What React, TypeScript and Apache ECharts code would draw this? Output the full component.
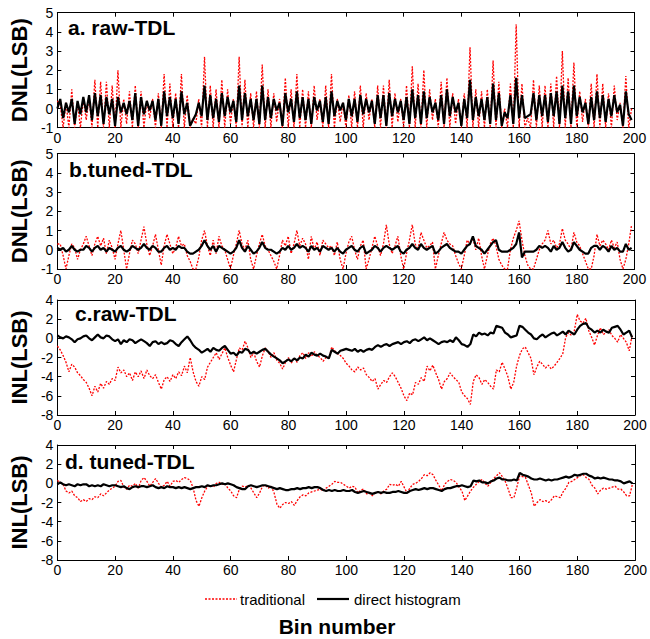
import React, { useEffect, useRef } from "react";
import * as echarts from "echarts";

// ---------------- data (bin index 0..199) ----------------
const panelTitles = ["a. raw-TDL", "b.tuned-TDL", "c.raw-TDL", "d. tuned-TDL"];
const yNames = ["DNL(LSB)", "DNL(LSB)", "INL(LSB)", "INL(LSB)"];
const yMins = [-1, -1, -8, -8];
const yMaxs = [5, 5, 4, 4];
const yIntervals = [1, 1, 2, 2];
const xMin = 0;
const xMax = 200;
const xInterval = 20;
const legendNames = ["traditional", "direct histogram"];
const xTitle = "Bin number";

const tradA = [
  0.4, 0.2, -1, 0.3, -1, 1.0, -1, 0.3, -1, 0.5,
  -0.6, 0.6, -1, 1.5, -1, 1.4, -1, 1.4, -1, 1.2,
  -1, 2.0, -1, 0.5, -0.8, 0.9, -1, 1.2, -1, 0.9,
  -1, 0.4, -0.5, 0.5, -1, 0.8, -1, 1.8, -1, 1.3,
  -1, 0.8, -1, 1.8, -1, 0.7, -1, -0.5, -0.8, 0.5,
  -1, 2.7, -1, 1.2, -1, 1.0, -1, 1.5, -1, 1.0,
  -0.8, 0.5, -1, 2.7, -1, 1.5, -1, 0.8, -1, 0.9,
  -1, 2.3, -1, 1.0, -1, 0.8, -0.7, 0.5, -1, 1.6,
  -1, 1.0, -1, 1.8, -1, 1.0, -1, 0.9, -1, 1.2,
  -0.6, 0.5, -1, 1.2, -1, 1.8, -1, 0.5, -0.7, 0.3,
  -1, 0.7, -1, 0.9, -1, 1.2, -1, 0.8, -0.6, 0.5,
  -1, 1.2, -1, 1.2, -1, 1.5, -1, 0.8, -0.7, 0.5,
  -1, 1.2, -1, 2.2, -1, 1.3, -1, 2.0, -1, 1.0,
  -0.6, 0.5, -1, 1.4, -1, 1.6, -1, 0.8, -0.8, 0.5,
  -1, 0.8, -1, 3.2, -1, 1.0, -1, 0.9, -1, 1.0,
  -1, 2.5, -1, 1.4, -1, 0.0, -1, 1.3, -1, 4.4,
  -1, 1.3, -1, -0.5, -1, 1.5, -1, 1.2, -1, 1.2,
  -1, 1.3, -1, 1.7, -1, 3.0, -1, 1.6, -1, 2.4,
  -1, 0.9, -0.7, 0.5, -1, 1.3, -1, 1.8, -1, 1.3,
  -1, 0.8, -1, 1.2, -0.6, 0.3, -1, 1.7, -1, 0.0,
];

const histA = [
  0.0, 0.5, -0.5, 0.3, -0.2, 0.5, -0.8, 0.4, -0.3, 0.6,
  -0.2, 0.7, -0.6, 0.8, -0.4, 0.7, -0.8, 0.6, -0.3, 0.5,
  -0.9, 0.6, -0.2, 0.3, -0.3, 0.4, -0.6, 0.8, -0.9, 0.6,
  -0.3, 0.4, -0.1, 0.4, -0.6, 0.5, -0.9, 0.9, -0.4, 0.6,
  -0.5, 0.5, -0.8, 0.9, -0.3, 0.3, -0.9, -0.6, -0.3, 0.3,
  -0.4, 1.2, -0.6, 0.7, -0.5, 0.5, -0.7, 0.8, -0.4, 0.6,
  -0.2, 0.4, -0.7, 1.2, -0.6, 0.8, -0.4, 0.5, -0.6, 0.5,
  -0.8, 1.2, -0.6, 0.6, -0.5, 0.5, -0.1, 0.3, -0.9, 0.8,
  -0.2, 0.5, -0.7, 0.9, -0.5, 0.6, -0.6, 0.5, -0.8, 0.6,
  -0.1, 0.4, -0.7, 0.6, -0.8, 0.9, -0.4, 0.4, -0.1, 0.3,
  -0.6, 0.5, -0.4, 0.5, -0.7, 0.7, -0.3, 0.5, -0.2, 0.4,
  -0.8, 0.7, -0.5, 0.7, -0.9, 0.8, -0.4, 0.5, -0.2, 0.4,
  -0.6, 0.6, -0.8, 1.0, -0.5, 0.7, -0.8, 0.9, -0.5, 0.6,
  -0.2, 0.3, -0.6, 0.7, -0.8, 1.0, -0.4, 0.6, -0.2, 0.3,
  -0.9, 0.5, -0.5, 1.5, -0.6, 0.6, -0.4, 0.5, -0.6, 0.6,
  -0.8, 1.3, -0.6, 0.8, -0.9, -0.2, -0.5, 0.7, -0.8, 1.6,
  -0.5, 0.7, -0.5, -0.4, -0.3, 0.8, -0.6, 0.7, -0.4, 0.7,
  -0.7, 0.8, -0.4, 0.9, -0.8, 1.2, -0.5, 0.9, -0.8, 1.2,
  -0.4, 0.6, -0.2, 0.3, -0.8, 0.6, -0.6, 0.9, -0.5, 0.7,
  -0.7, 0.5, -0.4, 0.7, -0.2, 0.2, -0.9, 0.9, -0.3, -0.6,
];

const tradB = [
  0.3, 0.3, -0.3, -1, -0.3, 0.3, 0.1, -0.5, 0.0, 0.3,
  0.7, 0.2, -0.3, 0.3, 0.7, 0.2, 0.6, -0.2, 0.5, 0.1,
  -0.5, 0.3, 1.0, 0.0, -1, -0.2, 0.5, 0.3, -0.2, 0.5,
  1.2, 0.3, -0.3, 0.2, 0.8, 0.0, -0.8, 0.2, 0.8, 0.3,
  -0.2, 0.1, 0.7, 0.2, 0.3, -0.3, -0.6, -1, -1, -0.4,
  0.5, 1.0, 0.2, -0.3, 0.5, -0.2, 0.7, 0.2, 0.0, -0.5,
  -1, -0.3, 0.3, 1.0, 0.3, 0.0, 0.5, -0.5, -1, -0.3,
  0.3, 0.8, 0.2, 0.0, -0.3, -0.6, -1, -0.3, 0.5, 0.2,
  0.7, -0.2, 0.3, 1.0, 0.2, 0.6, 0.3, -0.5, 0.7, 0.0,
  0.4, -0.3, 0.5, 0.3, 0.1, 0.2, -0.3, 0.4, -0.5, -1,
  -0.2, 0.4, 0.7, 0.0, -0.5, 0.2, 0.5, -1, -0.5, 0.1,
  0.7, 0.2, -0.3, 0.3, 1.3, 0.3, -0.2, 0.2, 0.7, -0.3,
  -1, -0.2, 0.5, 1.3, 0.3, 0.0, 0.9, 0.5, 0.1, 0.2,
  0.4, -1, -0.3, 0.3, 0.9, 0.5, 0.3, 0.2, -0.3, -0.7,
  -1, -0.3, 0.5, 0.3, 0.6, 0.0, 0.6, -0.3, -1, -0.3,
  0.3, 0.6, 0.2, -0.5, -0.8, -1, -1, 0.0, 0.6, 1.0,
  1.5, 0.5, -0.3, -0.8, -1, -1, -0.5, 0.0, 0.3, 0.5,
  1.0, 0.3, 0.5, 0.1, 0.3, 1.1, 0.5, 0.3, 0.0, 0.9,
  0.4, 0.2, -0.2, -0.6, -1, -1, -0.3, 0.8, 0.2, 0.5,
  0.3, 0.0, 0.5, 0.1, 0.4, -0.5, -1, -0.5, 0.3, 1.3,
];

const histB = [
  0.1, 0.0, 0.1, -0.1, 0.0, 0.2, 0.0, -0.1, 0.0, 0.0,
  0.2, 0.1, -0.1, 0.1, 0.2, 0.0, 0.1, -0.1, 0.1, 0.0,
  -0.1, 0.1, 0.2, 0.0, -0.1, 0.0, 0.2, 0.1, 0.0, 0.1,
  0.3, 0.1, 0.0, 0.2, 0.1, -0.1, -0.1, 0.1, 0.2, 0.0,
  0.1, 0.0, 0.2, 0.1, 0.1, -0.1, -0.2, -0.2, -0.1, 0.0,
  0.2, 0.5, 0.2, 0.0, 0.2, -0.1, 0.2, 0.1, 0.0, -0.1,
  -0.2, -0.1, 0.1, 0.5, 0.1, -0.1, 0.2, 0.0, -0.2, -0.1,
  0.1, 0.4, 0.1, 0.0, 0.0, -0.1, -0.2, -0.1, 0.1, 0.0,
  0.2, 0.0, 0.1, 0.3, 0.1, 0.2, 0.1, -0.1, 0.2, 0.0,
  0.1, -0.1, 0.2, 0.1, 0.0, 0.1, -0.1, 0.1, -0.1, -0.2,
  0.0, 0.1, 0.2, 0.0, -0.1, 0.1, 0.2, -0.2, -0.1, 0.0,
  0.2, 0.1, -0.1, 0.1, 0.2, 0.1, 0.0, 0.1, 0.2, -0.1,
  -0.2, 0.0, 0.1, 0.3, 0.1, 0.0, 0.3, 0.1, 0.0, 0.1,
  0.2, -0.2, -0.1, 0.1, 0.2, 0.3, 0.1, 0.0, -0.1, -0.1,
  -0.2, 0.0, 0.2, 0.3, 0.7, 0.2, 0.1, 0.0, -0.2, 0.0,
  0.2, 0.4, 0.5, 0.0, -0.1, -0.1, -0.1, 0.0, 0.1, 0.3,
  0.9, -0.4, -0.1, -0.1, -0.1, -0.1, 0.0, 0.2, 0.1, 0.2,
  0.1, -0.1, 0.2, 0.0, 0.1, 0.4, 0.1, -0.1, 0.0, 0.4,
  0.2, 0.0, -0.1, -0.2, -0.2, 0.1, 0.2, 0.2, 0.0, 0.2,
  0.1, -0.1, 0.2, 0.0, 0.1, -0.1, -0.1, 0.3, 0.0, 0.1,
];

const tradC = [
  -0.8, -1.2, -1.8, -2.5, -3.5, -2.7, -3.0, -3.6, -3.9, -4.3,
  -4.6, -5.2, -6.0, -5.0, -5.6, -4.7, -5.2, -4.5, -4.8, -4.2,
  -4.4, -3.0, -3.6, -3.3, -4.0, -3.6, -4.4, -3.5, -4.0, -3.4,
  -4.2, -3.3, -3.9, -4.2, -3.8, -4.6, -5.3, -4.3, -4.0, -4.5,
  -3.8, -4.2, -3.5, -3.9, -2.9, -3.6, -2.0, -3.5, -4.5, -5.0,
  -4.0, -4.3, -3.0, -2.5, -2.0, -1.5, -2.2, -1.6, -1.0, -2.0,
  -2.8, -3.5, -2.2, -1.0, -1.2, -0.3, -1.0, -2.0, -1.5, -2.4,
  -3.0, -1.8, -1.0, -1.4, -2.0, -1.5, -2.3, -2.6, -3.2, -2.5,
  -2.0, -2.6, -2.0, -2.5, -1.8, -1.5, -2.1, -1.5, -1.9, -1.4,
  -1.8, -2.0, -2.4, -2.0, -2.1, -0.9, -1.3, -1.6, -1.8, -2.1,
  -2.6, -2.9, -3.3, -3.5, -3.0, -3.3, -3.1, -3.8, -4.1, -4.5,
  -4.2, -5.3, -4.8, -4.4, -4.6, -4.0, -3.6, -4.0, -4.6, -5.2,
  -6.0, -6.5, -5.7, -5.9, -4.6, -4.8, -4.1, -4.5, -2.9, -3.4,
  -2.8, -3.6, -4.3, -5.3, -4.5, -4.2, -3.6, -4.0, -4.3, -4.6,
  -5.6, -6.0, -6.3, -6.9, -4.5, -3.8, -4.1, -4.8, -4.3, -4.6,
  -5.0, -5.3, -3.3, -3.5, -2.5, -3.2, -4.0, -5.3, -4.6, -2.9,
  -1.8, -1.1, -0.9, -1.5, -2.1, -3.8, -3.0, -2.4, -2.7, -3.1,
  -2.8, -3.2, -2.9, -2.5, -2.1, -1.6, 0.1, 0.6, 0.3, 0.8,
  2.5, 1.8, 1.6, 2.1, 0.8, 0.1, -0.7, 0.3, 1.1, 0.4,
  0.6, 0.9, 0.3, 0.0, -0.4, 0.4, 0.0, -0.4, -1.3, 0.3,
];

const histC = [
  0.3, 0.1, 0.0, 0.2, 0.1, -0.1, -0.4, -0.1, 0.0, 0.2,
  0.3, 0.0, -0.2, 0.1, 0.4, 0.1, 0.0, 0.3, 0.2, -0.1,
  -0.3, -0.1, -0.6, -0.2, -0.4, -0.1, -0.2, -0.5, -0.3, -0.1,
  -0.3, -0.5, -0.8, -0.4, -0.3, -0.6, -0.4, -0.6, -0.5, -0.2,
  -0.3, -0.6, -0.8, -0.4, -0.1, 0.2, -0.2, -0.7, -1.0, -1.2,
  -1.5, -1.3, -1.1, -1.4, -1.0, -1.2, -1.3, -1.0, -0.8, -1.2,
  -1.6, -1.5, -1.8, -1.4, -1.5, -1.1, -1.2, -1.6, -1.4, -1.6,
  -1.4, -1.2, -1.1, -1.4, -1.7, -1.9, -2.1, -2.3, -2.6, -2.4,
  -2.2, -2.4, -2.1, -2.3, -2.0, -2.1, -1.7, -1.9, -1.5, -1.7,
  -1.8, -1.6, -1.8, -1.9, -2.1, -1.2, -1.4, -1.6, -1.3, -1.2,
  -1.1, -1.2, -1.3, -1.1, -1.4, -1.2, -1.4, -1.2, -1.1, -1.2,
  -0.9, -0.7, -0.9, -0.7, -0.6, -0.8, -0.6, -0.5, -0.4, -0.6,
  -0.4, -0.3, -0.5, -0.2, -0.1, -0.3, -0.1, 0.1, -0.2, 0.0,
  -0.2, -0.4, -0.6, -0.4, -0.3, -0.4, -0.2, -0.4, 0.1, -0.2,
  -0.6, -0.7, -0.9, -0.6, 0.4, 0.2, 0.6, 0.4, 0.5, 0.3,
  0.6, 0.5, 1.3, 1.2, 1.1, 0.6, 0.4, 0.1, 0.2, 0.3,
  1.3, 1.2, 0.9, 0.6, 0.4, 0.0, -0.1, 0.2, 0.4, 0.1,
  0.3, 0.5, 0.6, 0.3, 0.5, 0.7, 0.4, 0.8, 0.6, 0.4,
  0.9, 1.3, 1.5, 1.6, 1.1, 0.9, 0.6, 0.8, 0.6, 0.9,
  0.7, 0.6, 1.1, 1.2, 1.3, 0.9, 0.4, 0.6, 0.8, 0.1,
];

const tradD = [
  0.3, 0.1, -0.1, -0.8, -1.0, -0.8, -1.3, -1.5, -1.9, -1.7,
  -1.9, -1.6, -1.7, -1.4, -1.5, -1.1, -1.3, -1.0, -0.7, -0.5,
  -0.3, 0.2, 0.3, -0.4, -0.6, -0.2, -0.3, 0.0, -0.5, 0.3,
  0.6, 0.2, -0.3, 0.1, 0.5, 0.0, -0.4, -0.2, 0.2, -0.3,
  0.2, 0.3, 0.1, 0.4, 0.6, 0.5, 0.3, -0.5, -1.8, -2.4,
  -1.5, -0.8, -0.3, -0.2, -0.4, 0.0, 0.1, -0.1, 0.0, -0.5,
  -0.8, -1.3, -1.5, -0.6, -0.3, -0.4, -0.2, -0.5, -1.0, -1.5,
  -1.0, -0.3, -0.2, -0.5, -0.3, -1.0, -2.2, -2.6, -2.2, -2.0,
  -2.1, -1.9, -2.3, -1.8, -1.4, -1.2, -1.3, -1.0, -0.9, -0.8,
  -0.7, -0.6, -0.8, -0.5, -0.3, -0.1, 0.2, 0.1, 0.1, -0.1,
  -0.3, -0.5, -0.3, -0.4, -1.0, -0.7, -0.6, -1.1, -1.0, -1.3,
  -1.0, -0.9, -1.1, -0.8, -0.6, -0.1, -0.2, -0.1, -0.3, 0.2,
  -0.4, -1.0, -0.5, -0.1, 0.0, 0.2, 0.5, 0.9, 0.8, 1.1,
  0.9, 0.3, -0.2, -0.8, -0.1, 0.2, 0.4, 0.3, 0.1, -0.4,
  -0.8, -1.8, -1.3, -0.8, -0.4, -0.1, 0.2, 0.4, 0.0, -0.3,
  0.1, 0.5, 0.8, 1.1, 0.7, 0.2, -0.6, -1.5, -1.5, -0.4,
  0.8, 0.7, 0.6, -0.2, -1.0, -2.4, -2.0, -1.7, -1.9, -1.8,
  -2.0, -1.7, -1.3, -1.4, -1.5, -0.9, -0.5, 0.1, 0.2, 0.4,
  0.6, 0.8, 0.9, 0.6, 0.4, -0.2, -0.5, -1.1, -0.7, -0.5,
  -0.6, -0.5, -0.4, -0.3, -0.6, -0.6, -0.9, -1.3, -1.3, -0.1,
];

const histD = [
  -0.1, 0.1, -0.1, -0.2, -0.1, -0.2, -0.3, -0.1, -0.2, -0.1,
  -0.1, -0.3, -0.2, -0.3, -0.2, -0.3, -0.1, -0.2, -0.3, -0.2,
  -0.2, -0.3, -0.4, -0.3, -0.5, -0.6, -0.4, -0.3, -0.4, -0.3,
  -0.3, -0.4, -0.3, -0.2, -0.4, -0.5, -0.4, -0.5, -0.3, -0.4,
  -0.4, -0.5, -0.4, -0.5, -0.4, -0.5, -0.6, -0.5, -0.4, -0.4,
  -0.3, -0.4, -0.2, -0.3, -0.2, -0.2, -0.1, 0.0, -0.1, 0.0,
  -0.1, -0.2, -0.4, -0.5, -0.6, -0.6, -0.3, -0.2, -0.3, -0.4,
  -0.3, -0.2, -0.2, -0.3, -0.4, -0.5, -0.6, -0.5, -0.6, -0.7,
  -0.7, -0.6, -0.6, -0.5, -0.6, -0.5, -0.5, -0.4, -0.5, -0.4,
  -0.4, -0.5, -0.7, -0.8, -0.7, -0.8, -0.7, -0.8, -0.8, -0.7,
  -0.8, -0.8, -0.7, -0.9, -1.0, -0.9, -0.8, -0.9, -1.0, -1.1,
  -1.0, -0.9, -1.0, -0.9, -1.0, -1.0, -0.9, -0.9, -0.8, -0.9,
  -1.0, -1.0, -0.8, -0.7, -0.6, -0.7, -0.6, -0.5, -0.6, -0.5,
  -0.5, -0.6, -0.7, -0.8, -0.6, -0.5, -0.5, -0.4, -0.3, -0.3,
  -0.2, -0.3, -0.4, -0.3, 0.3, 0.2, 0.3, 0.1, 0.1, 0.0,
  0.2, 0.3, 0.5, 0.6, 0.4, 0.4, 0.3, 0.3, 0.4, 0.3,
  1.1, 0.9, 0.8, 0.7, 0.5, 0.4, 0.4, 0.5, 0.4, 0.3,
  0.4, 0.3, 0.4, 0.4, 0.5, 0.6, 0.7, 0.6, 0.7, 0.9,
  0.8, 0.9, 1.0, 1.0, 0.8, 0.7, 0.5, 0.6, 0.5, 0.6,
  0.5, 0.4, 0.4, 0.3, 0.3, 0.2, 0.0, 0.1, 0.2, 0.0,
];

const tradSeries = [tradA, tradB, tradC, tradD];
const histSeries = [histA, histB, histC, histD];

// ---------------- layout / style ----------------
const FONT = '"Liberation Sans", Arial, Helvetica, sans-serif';
const RED = "#ff0000";
const BLACK = "#000000";

const gridBoxes = [
  { left: 52, top: 12.7, width: 582.5, height: 115 },
  { left: 52, top: 153.5, width: 582.5, height: 115.5 },
  { left: 52, top: 300, width: 583, height: 115 },
  { left: 52, top: 445, width: 585, height: 115 },
];
const titleOffsets = [
  { dx: 16, dy: 15 },
  { dx: 17, dy: 16 },
  { dx: 23, dy: 13 },
  { dx: 13, dy: 16 },
];

function toPairs(arr: number[]) {
  return arr.map((v, i) => [i, v]);
}

function buildOption() {
  const xAxis: any[] = [];
  const yAxis: any[] = [];
  const series: any[] = [];
  const graphic: any[] = [];
  const lineCommon = { show: true, onZero: false, lineStyle: { color: BLACK, width: 1 } };
  const tickCommon = { show: true, inside: true, length: 4, lineStyle: { color: BLACK, width: 1 } };

  gridBoxes.forEach((g, i) => {
    xAxis.push({
      type: "value", gridIndex: i, position: "bottom",
      min: xMin, max: xMax, interval: xInterval,
      axisLine: lineCommon, axisTick: tickCommon,
      axisLabel: { show: true, color: BLACK, fontSize: 14, fontFamily: FONT, margin: 3 },
      splitLine: { show: false },
    });
    xAxis.push({
      type: "value", gridIndex: i, position: "top",
      min: xMin, max: xMax, interval: xInterval,
      axisLine: lineCommon, axisTick: tickCommon,
      axisLabel: { show: false }, splitLine: { show: false },
    });
    yAxis.push({
      type: "value", gridIndex: i, position: "left",
      min: yMins[i], max: yMaxs[i], interval: yIntervals[i],
      axisLine: lineCommon, axisTick: tickCommon,
      axisLabel: { show: true, color: BLACK, fontSize: 14, fontFamily: FONT, margin: 4 },
      splitLine: { show: false },
      name: yNames[i], nameLocation: "middle", nameGap: 23,
      nameTextStyle: { color: BLACK, fontSize: 22, fontWeight: "bold", fontFamily: FONT },
    });
    yAxis.push({
      type: "value", gridIndex: i, position: "right",
      min: yMins[i], max: yMaxs[i], interval: yIntervals[i],
      axisLine: lineCommon, axisTick: tickCommon,
      axisLabel: { show: false }, splitLine: { show: false },
    });
    series.push({
      name: legendNames[0], type: "line",
      xAxisIndex: i * 2, yAxisIndex: i * 2,
      data: toPairs(tradSeries[i]),
      showSymbol: false, symbol: "none",
      lineStyle: { color: RED, width: 1.3, type: [2, 1.5] },
      z: 2,
    });
    series.push({
      name: legendNames[1], type: "line",
      xAxisIndex: i * 2, yAxisIndex: i * 2,
      data: toPairs(histSeries[i]),
      showSymbol: false, symbol: "none",
      lineStyle: { color: BLACK, width: 2.2 },
      z: 3,
    });
    graphic.push({
      type: "text",
      x: g.left + titleOffsets[i].dx,
      y: g.top + titleOffsets[i].dy,
      z: 10,
      style: {
        text: panelTitles[i], fill: BLACK, fontSize: 21, fontWeight: "bold",
        fontFamily: FONT, align: "left", verticalAlign: "middle",
      },
    });
  });

  // legend
  graphic.push({
    type: "line", shape: { x1: 205, y1: 599, x2: 237, y2: 599 },
    style: { stroke: RED, lineWidth: 1.3, lineDash: [2, 1.5] },
  });
  graphic.push({
    type: "text", x: 240, y: 599,
    style: { text: legendNames[0], fill: BLACK, fontSize: 15, fontFamily: FONT, align: "left", verticalAlign: "middle" },
  });
  graphic.push({
    type: "line", shape: { x1: 317, y1: 599, x2: 349, y2: 599 },
    style: { stroke: BLACK, lineWidth: 2.2 },
  });
  graphic.push({
    type: "text", x: 354, y: 599,
    style: { text: legendNames[1], fill: BLACK, fontSize: 15, fontFamily: FONT, align: "left", verticalAlign: "middle" },
  });
  graphic.push({
    type: "text", x: 337, y: 626,
    style: { text: xTitle, fill: BLACK, fontSize: 21, fontWeight: "bold", fontFamily: FONT, align: "center", verticalAlign: "middle" },
  });

  return {
    animation: false,
    backgroundColor: "#ffffff",
    grid: gridBoxes.map((g) => ({ ...g, containLabel: false, show: false })),
    xAxis,
    yAxis,
    series,
    graphic,
  };
}

export default function App() {
  const ref = useRef<HTMLDivElement>(null);
  useEffect(() => {
    if (!ref.current) return;
    const chart = echarts.init(ref.current, undefined, { renderer: "svg" });
    chart.setOption(buildOption() as any);
    return () => chart.dispose();
  }, []);
  return (
    <div
      ref={ref}
      style={{ position: "absolute", left: 0, top: 0, width: 650, height: 639, background: "#fff" }}
    />
  );
}
